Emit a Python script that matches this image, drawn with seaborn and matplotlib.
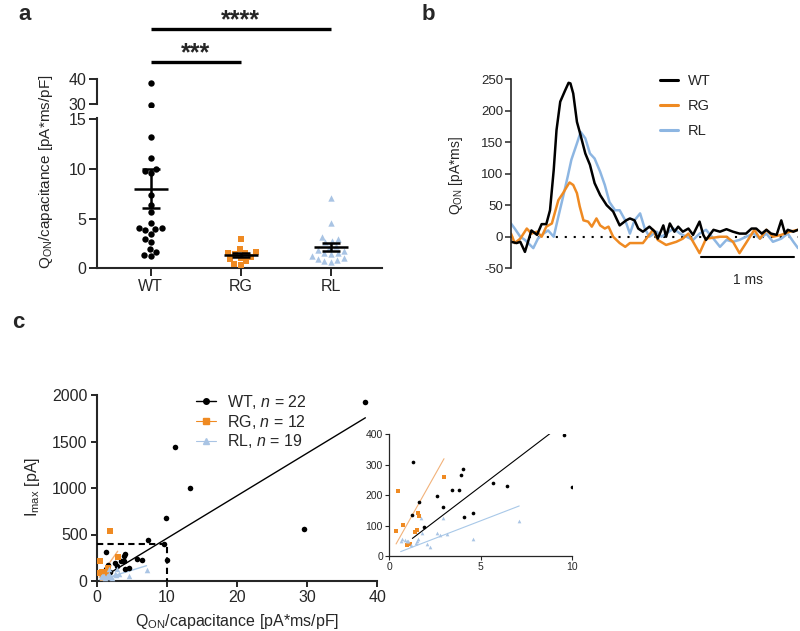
import warnings

import matplotlib
matplotlib.use("Agg")
import matplotlib.pyplot as plt
from matplotlib.lines import Line2D
import numpy as np
import pandas as pd
import seaborn as sns

warnings.filterwarnings("ignore")

# ──────────────────────────────────────────────
# Dados
# ──────────────────────────────────────────────
grupos = ["WT", "RG", "RL"]

# Q_ON/capacitance [pA*ms/pF] e I_max [pA] por célula
wt_q = [38.3, 29.6, 13.25, 11.15, 9.83, 9.56, 9.97, 7.35, 6.41, 5.68, 4.56,
        4.08, 4.01, 3.93, 3.83, 3.44, 2.92, 2.61, 1.91, 1.61, 1.31, 1.26]
wt_imax = [1928, 562, 997, 1444, 681, 399, 227, 444, 229, 241, 142,
           128, 285, 265, 217, 216, 162, 197, 94, 177, 308, 134]

rg_q = [0.45, 0.37, 0.73, 1.55, 1.6, 1.4, 1.53, 0.95, 1.05, 1.15, 2.99, 1.9]
rg_imax = [215, 83, 101, 140, 130, 80, 85, 35, 38, 40, 259, 537]

rl_q = [7.1, 4.55, 3.15, 2.95, 2.75, 2.6, 2.2, 2.07, 1.8, 1.75, 1.55, 1.5,
        1.45, 1.2, 1.0, 0.95, 0.85, 0.7, 0.62]
rl_imax = [116, 57, 73, 125, 68, 76, 30, 38, 77, 125, 55, 50,
           42, 35, 50, 48, 52, 55, 48]

# Traços de Q_ON [pA*ms] ao longo do tempo [ms]
wt_t = [0.00, 0.06, 0.10, 0.15, 0.22, 0.28, 0.33, 0.38, 0.42, 0.46,
        0.49, 0.53, 0.58, 0.62, 0.64, 0.67, 0.71, 0.74, 0.80, 0.85,
        0.90, 0.96, 1.03, 1.10, 1.17, 1.24, 1.28, 1.33, 1.37, 1.42,
        1.49, 1.55, 1.58, 1.64, 1.67, 1.71, 1.76, 1.80, 1.85, 1.91,
        1.96, 2.03, 2.07, 2.10, 2.18, 2.25, 2.32, 2.39, 2.46, 2.53,
        2.59, 2.64, 2.70, 2.75, 2.80, 2.86, 2.91, 2.95, 2.98, 3.04, 3.09]
wt_trace = [-8, -10, -8, -24, 10, 3, 20, 20, 42, 106,
            169, 214, 231, 244, 243, 227, 182, 166, 132, 114,
            85, 66, 50, 40, 18, 26, 29, 26, 13, 8,
            16, 8, -3, 18, 0, 21, 8, 16, 8, 13,
            3, 24, 3, -5, 11, 8, 12, 8, 5, 5,
            13, 13, 5, 11, 5, 3, 26, 5, 11, 8, 11]

rg_t = [0.00, 0.04, 0.10, 0.17, 0.22, 0.28, 0.33, 0.38, 0.44, 0.47,
        0.51, 0.56, 0.60, 0.63, 0.67, 0.71, 0.74, 0.78, 0.83, 0.87,
        0.92, 0.96, 1.01, 1.05, 1.10, 1.17, 1.23, 1.28, 1.33, 1.42,
        1.53, 1.58, 1.67, 1.78, 1.85, 1.91, 2.03, 2.10, 2.25, 2.32,
        2.39, 2.46, 2.53, 2.62, 2.68, 2.75, 2.82, 2.91, 3.00, 3.09]
rg_trace = [5, -10, -3, 13, 5, 8, 0, 16, 21, 37,
            58, 69, 79, 86, 82, 69, 48, 26, 24, 16,
            29, 18, 13, 16, 0, -10, -16, -10, -10, -10,
            11, -5, -13, -8, -3, 5, -26, -3, 0, 0,
            -8, -26, -10, 11, -3, 11, 0, 3, 8, 11]

rl_t = [0.00, 0.04, 0.10, 0.15, 0.24, 0.29, 0.35, 0.40, 0.46, 0.51,
        0.56, 0.61, 0.65, 0.71, 0.75, 0.80, 0.85, 0.90, 0.96, 1.01,
        1.06, 1.12, 1.17, 1.23, 1.28, 1.33, 1.39, 1.44, 1.49, 1.57,
        1.62, 1.67, 1.75, 1.82, 1.89, 1.96, 2.03, 2.10, 2.18, 2.25,
        2.32, 2.39, 2.46, 2.53, 2.61, 2.68, 2.75, 2.82, 2.91, 2.98,
        3.04, 3.09]
rl_trace = [21, 13, 0, -5, -18, -3, 5, 10, 0, 32,
            63, 95, 122, 148, 166, 156, 132, 124, 103, 82,
            55, 42, 42, 26, 5, 26, 37, 13, 0, 8,
            0, 5, 13, 5, 0, -5, 5, 11, -3, -16,
            -5, -8, -5, 0, 5, -3, 5, -8, -3, 5,
            -8, -18]

# Faixa mostrada no detalhe (inset) do painel c
inset_xmax = 10
inset_ymax = 400

# ──────────────────────────────────────────────
# Estilo
# ──────────────────────────────────────────────
sns.set_style("ticks")
plt.rcParams["font.family"] = ["Liberation Sans", "DejaVu Sans"]
plt.rcParams["mathtext.fontset"] = "custom"
plt.rcParams["mathtext.rm"] = "Liberation Sans"
plt.rcParams["mathtext.it"] = "Liberation Sans:italic"
plt.rcParams["axes.unicode_minus"] = False

cores = {"WT": "#000000", "RG": "#EF8A22", "RL": "#8DB6E2"}
cores_ponto = {"WT": "#000000", "RG": "#EF8A22", "RL": "#A9C4E4"}
cores_ajuste = {"WT": "#000000", "RG": "#F2B27A", "RL": "#A8C8E8"}
marcadores = {"WT": "o", "RG": "s", "RL": "^"}

dados_q = {"WT": wt_q, "RG": rg_q, "RL": rl_q}
dados_imax = {"WT": wt_imax, "RG": rg_imax, "RL": rl_imax}

df_a = pd.DataFrame({
    "grupo": [g for g in grupos for _ in dados_q[g]],
    "q": [v for g in grupos for v in dados_q[g]],
})

W, H = 800, 631
fig = plt.figure(figsize=(W / 100, H / 100), dpi=100)


def px_axes(left, top, right, bottom):
    """Converte uma caixa em pixels para coordenadas de figura."""
    return [left / W, 1 - bottom / H, (right - left) / W, (bottom - top) / H]


# ──────────────────────────────────────────────
# a. Dot plot com eixo quebrado
# ──────────────────────────────────────────────
ax_lo = fig.add_axes(px_axes(97, 118.4, 382, 268.3))
ax_hi = fig.add_axes(px_axes(97, 10, 382, 106.5))

for g in grupos:
    sub = df_a[df_a["grupo"] == g]
    sns.swarmplot(data=sub, x="grupo", y="q", order=grupos, color=cores_ponto[g],
                  marker=marcadores[g], size=4.6, ax=ax_lo)
    alto = sub[sub["q"] > 20]
    if not alto.empty:
        sns.swarmplot(data=alto, x="grupo", y="q", order=grupos, color=cores_ponto[g],
                      marker=marcadores[g], size=4.6, ax=ax_hi)

# média ± EPM
for i, g in enumerate(grupos):
    v = np.asarray(dados_q[g])
    m = v.mean()
    se = v.std(ddof=1) / np.sqrt(len(v))
    ax_lo.hlines(m, i - 0.19, i + 0.19, color="k", lw=1.8, zorder=5)
    ax_lo.vlines(i, m - se, m + se, color="k", lw=1.8, zorder=5)
    ax_lo.hlines([m - se, m + se], i - 0.1, i + 0.1, color="k", lw=1.8, zorder=5)

for ax in (ax_lo, ax_hi):
    ax.set_xlim(-0.595, 2.565)
    ax.set_xlabel("")
    ax.set_ylabel("")
    sns.despine(ax=ax)
    ax.tick_params(width=1.4, length=5.5, labelsize=11.5, pad=2)
    for s in ("left", "bottom"):
        ax.spines[s].set_linewidth(1.5)

ax_lo.set_ylim(0, 15.1)
ax_lo.set_yticks([0, 5, 10, 15])
ax_lo.set_xticks(range(3))
ax_lo.set_xticklabels(grupos)
ax_lo.set_ylabel(r"Q$_{\mathrm{ON}}$/capacitance [pA*ms/pF]", fontsize=11)
ax_lo.yaxis.set_label_coords(-0.147, 0.642)

ax_hi.set_ylim(29, 67.6)
ax_hi.set_yticks([30, 40])
ax_hi.spines["left"].set_bounds(30, 40)
ax_hi.spines["bottom"].set_visible(False)
ax_hi.set_xticks([])
ax_hi.patch.set_alpha(0)

# barras de significância
ax_hi.plot([0, 2], [60, 60], color="k", lw=2.4, clip_on=False, solid_capstyle="butt")
ax_hi.text(1, 63.5, "****", ha="center", va="center", fontsize=18, fontweight="bold")
ax_hi.plot([0, 1], [46.8, 46.8], color="k", lw=2.4, clip_on=False, solid_capstyle="butt")
ax_hi.text(0.5, 50.3, "***", ha="center", va="center", fontsize=18, fontweight="bold")

# ──────────────────────────────────────────────
# b. Traços representativos
# ──────────────────────────────────────────────
ax_b = fig.add_axes(px_axes(511, 79, 798, 268.3))
tracos = {"WT": (wt_t, wt_trace), "RG": (rg_t, rg_trace), "RL": (rl_t, rl_trace)}
ax_b.axhline(0, color="k", lw=1.5, linestyle=(0, (1, 3.3)), zorder=1)
for g in ["RL", "RG", "WT"]:
    t, y = tracos[g]
    sns.lineplot(x=t, y=y, color=cores[g], lw=1.8, estimator=None, sort=False, ax=ax_b)

ax_b.set_xlim(0, 3.09)
ax_b.set_ylim(-50, 250)
ax_b.set_yticks(range(-50, 251, 50))
ax_b.set_xticks([])
sns.despine(ax=ax_b, bottom=True)
ax_b.spines["left"].set_linewidth(1.2)
ax_b.tick_params(width=1.1, length=4, labelsize=9.5, pad=1.5)
ax_b.set_ylabel(r"Q$_{\mathrm{ON}}$ [pA*ms]", fontsize=10)
ax_b.yaxis.set_label_coords(-0.16, 0.49)

# barra de escala de 1 ms
ax_b.plot([2.05, 3.05], [-32.5, -32.5], color="k", lw=1.5, clip_on=False)
ax_b.text(2.55, -68.5, "1 ms", ha="center", va="center", fontsize=10)

h_b = [Line2D([], [], color=cores[g], lw=2.2) for g in grupos]
ax_b.legend(h_b, grupos, loc="upper left", bbox_to_anchor=(660 / W, 1 - 74 / H),
            bbox_transform=fig.transFigure, frameon=False, fontsize=10.5,
            handlelength=1.2, handletextpad=0.7, labelspacing=0.75,
            borderpad=0, borderaxespad=0)

# ──────────────────────────────────────────────
# c. I_max vs Q_ON/capacitance
# ──────────────────────────────────────────────
ax_c = fig.add_axes(px_axes(96.7, 395, 377.3, 581))
ax_in = fig.add_axes(px_axes(389.3, 434.3, 572.3, 556))


def desenha_dispersao(ax, tam, lw_ajuste):
    for g in grupos:
        x = np.asarray(dados_q[g], dtype=float)
        y = np.asarray(dados_imax[g], dtype=float)
        # regressão linear passando pela origem
        inclinacao = (x * y).sum() / (x * x).sum()
        xs = np.array([x.min(), x.max()])
        ax.plot(xs, inclinacao * xs, color=cores_ajuste[g], lw=lw_ajuste, zorder=2)
        sns.scatterplot(x=x, y=y, color=cores_ponto[g], marker=marcadores[g],
                        s=tam, linewidth=0, ax=ax, zorder=3)


desenha_dispersao(ax_c, 16, 1.0)
ax_c.plot([0, inset_xmax, inset_xmax], [inset_ymax, inset_ymax, 0], color="k",
          lw=1.5, dashes=(3, 2), zorder=4)
ax_c.set_xlim(0, 40)
ax_c.set_ylim(0, 2000)
ax_c.set_xticks(range(0, 41, 10))
ax_c.set_yticks(range(0, 2001, 500))
sns.despine(ax=ax_c)
for s in ("left", "bottom"):
    ax_c.spines[s].set_linewidth(1.5)
ax_c.tick_params(width=1.4, length=4.5, labelsize=11.5, pad=2)
ax_c.set_xlabel(r"Q$_{\mathrm{ON}}$/capacitance [pA*ms/pF]", fontsize=11.5)
ax_c.set_ylabel(r"I$_{\mathrm{max}}$ [pA]", fontsize=11.5)
ax_c.xaxis.set_label_coords(0.499, -0.168)
ax_c.yaxis.set_label_coords(-0.196, 0.507)

rotulos_c = [r"WT, $n$ = $\mathit{22}$", r"RG, $n$ = $\mathit{12}$", r"RL, $n$ = 19"]
h_c = [Line2D([], [], color=cores_ponto[g], marker=marcadores[g], markersize=4,
              lw=1.0 if g == "WT" else 0.8) for g in grupos]
ax_c.legend(h_c, rotulos_c, loc="upper left", bbox_to_anchor=(196 / W, 1 - 393 / H),
            bbox_transform=fig.transFigure, frameon=False, fontsize=11.5,
            handlelength=1.25, handletextpad=0.7, labelspacing=0.1,
            borderpad=0, borderaxespad=0)

desenha_dispersao(ax_in, 7, 0.8)
ax_in.set_xlim(0, inset_xmax)
ax_in.set_ylim(0, inset_ymax)
ax_in.set_xticks([0, 5, 10])
ax_in.set_yticks(range(0, 401, 100))
sns.despine(ax=ax_in)
for s in ("left", "bottom"):
    ax_in.spines[s].set_linewidth(0.9)
ax_in.tick_params(width=0.8, length=3, labelsize=7.5, pad=1.5)
ax_in.patch.set_alpha(0)

# ──────────────────────────────────────────────
# Rótulos dos painéis
# ──────────────────────────────────────────────
fig.text(18 / W, 1 - 15 / H, "a", fontsize=16, fontweight="bold", va="center")
fig.text(422 / W, 1 - 14 / H, "b", fontsize=16, fontweight="bold", va="center")
fig.text(12 / W, 1 - 323 / H, "c", fontsize=16, fontweight="bold", va="center")

fig.savefig("out.png", dpi=100)
